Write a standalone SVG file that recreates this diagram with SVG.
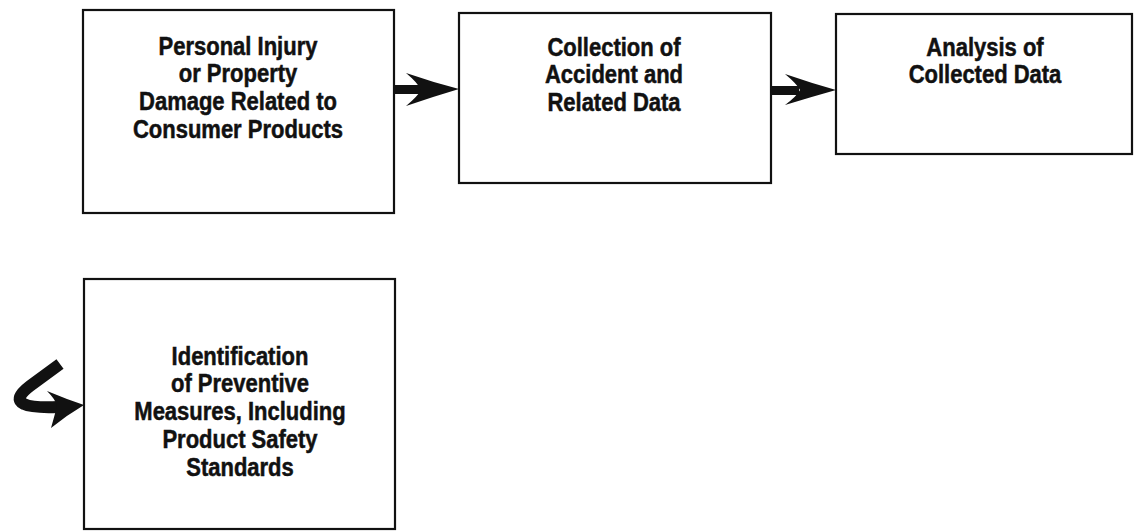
<svg xmlns="http://www.w3.org/2000/svg" width="1134" height="531" viewBox="0 0 1134 531">
  <style>
    .box { fill: #ffffff; stroke: #111111; stroke-width: 2.2; }
    .label { font-family: "Liberation Sans", Arial, sans-serif; font-weight: bold; font-size: 25px; fill: #111111; stroke: #111111; stroke-width: 0.5; text-anchor: middle; }
    .arrow { fill: #111111; stroke: none; }
  </style>
  <rect width="1134" height="531" fill="#ffffff"/>

  <g id="node-injury">
    <rect class="box" x="83" y="10" width="311" height="203"/>
    <!-- labels are set in a narrowed bold face -->
    <g transform="translate(238 0) scale(0.88 1)">
      <text class="label" x="0" y="55">Personal Injury</text>
      <text class="label" x="0" y="82">or Property</text>
      <text class="label" x="0" y="110">Damage Related to</text>
      <text class="label" x="0" y="138">Consumer Products</text>
    </g>
  </g>

  <g id="node-collection">
    <rect class="box" x="459" y="13" width="312" height="170"/>
    <g transform="translate(614 0) scale(0.88 1)">
      <text class="label" x="0" y="56">Collection of</text>
      <text class="label" x="0" y="83">Accident and</text>
      <text class="label" x="0" y="111">Related Data</text>
    </g>
  </g>

  <g id="node-analysis">
    <rect class="box" x="836" y="14" width="296" height="140"/>
    <g transform="translate(985 0) scale(0.88 1)">
      <text class="label" x="0" y="56">Analysis of</text>
      <text class="label" x="0" y="83">Collected Data</text>
    </g>
  </g>

  <g id="node-prevention">
    <rect class="box" x="84" y="279" width="311" height="250"/>
    <g transform="translate(240 0) scale(0.88 1)">
      <text class="label" x="0" y="365">Identification</text>
      <text class="label" x="0" y="392">of Preventive</text>
      <text class="label" x="0" y="420">Measures, Including</text>
      <text class="label" x="0" y="448">Product Safety</text>
      <text class="label" x="0" y="476">Standards</text>
    </g>
  </g>

  <g id="connectors">
    <!-- injury -> collection -->
    <rect class="arrow" x="394" y="85" width="28" height="9"/>
    <path class="arrow" d="M459,89 Q432,82 406,73 Q418,83 421,90 Q418,96 406,106 Q432,97 459,89 Z"/>
    <!-- collection -> analysis -->
    <rect class="arrow" x="771" y="86" width="28" height="9"/>
    <path class="arrow" d="M836,90 Q811,83 785,74 Q797,84 800,90 Q797,96 785,105 Q811,97 836,90 Z"/>
    <!-- loop back into the prevention box -->
    <path d="M60,364 L30,386 Q13,399 24,404 Q32,408 58,407" fill="none" stroke="#111111" stroke-width="12" stroke-linecap="butt" stroke-linejoin="round"/>
    <path class="arrow" d="M84,405 Q66,399 47,391 Q56,400 57,406 Q55,414 51,428 Q67,415 84,405 Z"/>
  </g>
</svg>
